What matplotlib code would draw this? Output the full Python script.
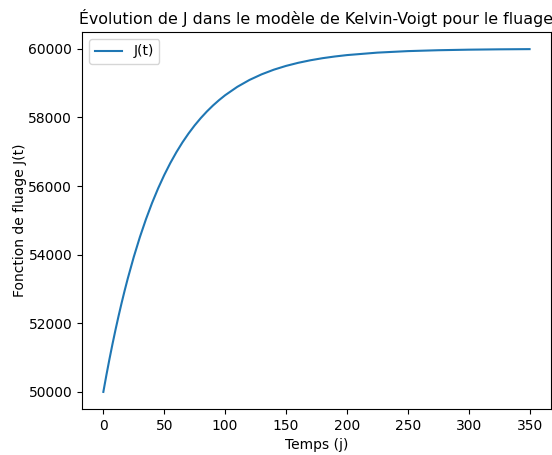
import matplotlib
matplotlib.use("Agg")
import matplotlib.pyplot as plt

# Creep compliance J(t) of the Kelvin-Voigt model, sampled over time (days)
t_days = [0, 2.5, 5, 7.5, 10, 12.5, 15, 17.5, 20, 25, 30, 35, 40, 45, 50,
          55, 60, 65, 70, 75, 80, 85, 90, 95, 100, 110, 120, 130, 140, 150,
          160, 170, 180, 190, 200, 225, 250, 275, 300, 325, 350]
j_values = [50000, 50488, 50952, 51393, 51813, 52212, 52592, 52953, 53297,
            53935, 54512, 55034, 55507, 55934, 56321, 56671, 56988, 57275,
            57534, 57769, 57981, 58173, 58347, 58504, 58647, 58892, 59093,
            59257, 59392, 59502, 59592, 59666, 59727, 59776, 59817, 59889,
            59933, 59959, 59975, 59985, 59991]
x_ticks = [0, 50, 100, 150, 200, 250, 300, 350]
y_ticks = [50000, 52000, 54000, 56000, 58000, 60000]

fig = plt.figure(figsize=(5.52, 4.55), dpi=100)
ax = fig.add_axes([0.1486, 0.101, 0.8494, 0.8287])

ax.plot(t_days, j_values, color="#1f77b4", linewidth=1.5, label="J(t)")
ax.set_xticks(x_ticks)
ax.set_yticks(y_ticks)
ax.set_xlabel("Temps (j)")
ax.set_ylabel("Fonction de fluage J(t)", labelpad=1)
ax.set_title("Évolution de J dans le modèle de Kelvin-Voigt pour le fluage",
             fontsize=11.4)
ax.legend(loc="upper left")

fig.savefig("out.png", dpi=100)
